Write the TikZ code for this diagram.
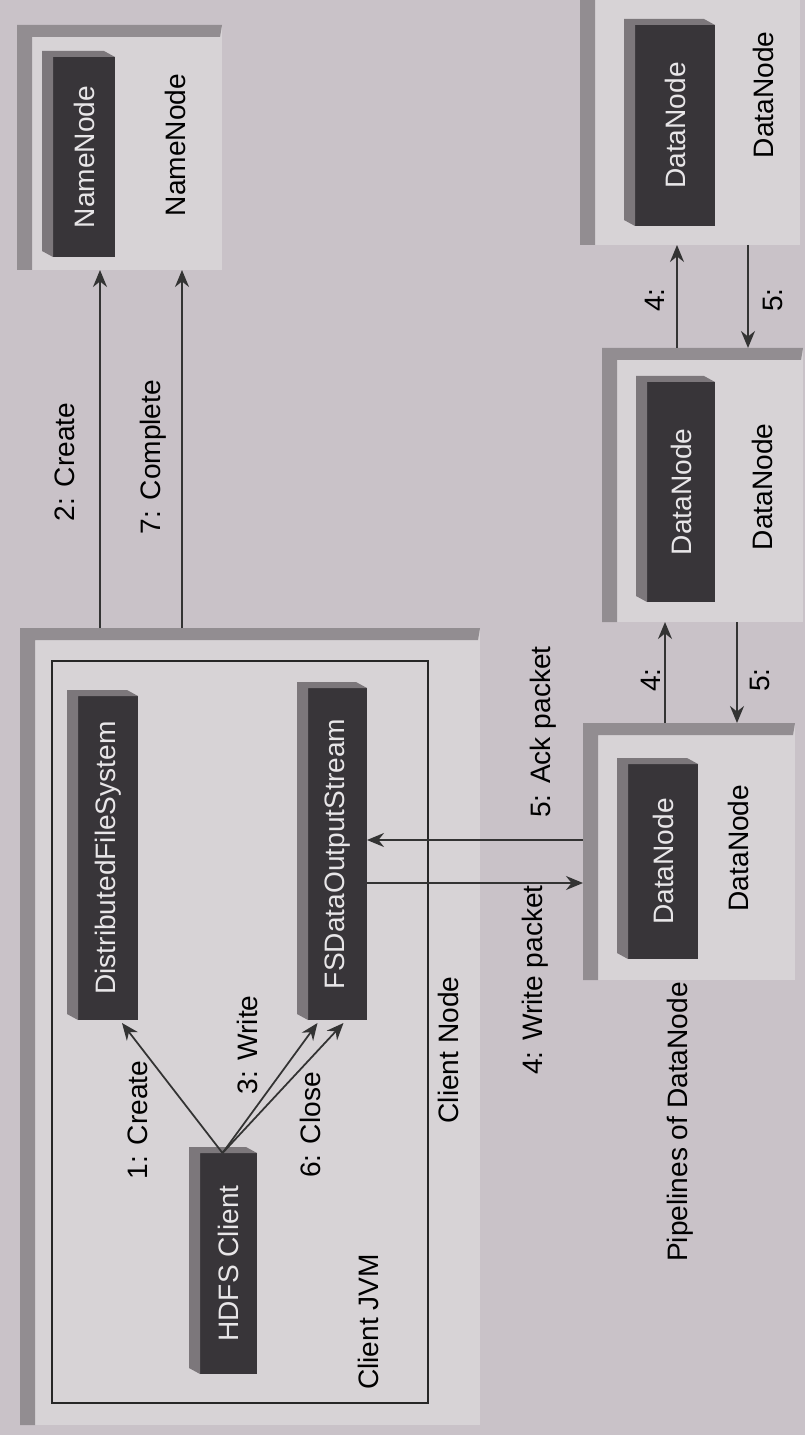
\documentclass[tikz,border=0pt]{standalone}
\usepackage{fontspec}
\setmainfont{Liberation Sans}
\usetikzlibrary{arrows.meta,fit}
\definecolor{paper}{RGB}{201,194,200}
\definecolor{slabface}{RGB}{215,211,214}
\definecolor{slabedge}{RGB}{146,141,145}
\definecolor{boxdark}{RGB}{56,53,57}
\definecolor{boxside}{RGB}{124,119,123}
\definecolor{boxtext}{RGB}{232,230,232}
\tikzset{
  slab/.style={inner sep=0pt, outer sep=0pt, fill=slabface},          % machine slab
  bevel/.style={fill=slabedge},
  blk/.style={inner sep=0pt, outer sep=0pt, fill=boxdark},             % dark component box
  sideface/.style={fill=boxside},
  lbl/.style={rotate=90, inner sep=1pt, font=\fontsize{16}{19}\selectfont},
  blktxt/.style={lbl, text=boxtext},
  jvm/.style={draw=black!85, line width=0.9pt, inner sep=0pt},
  arr/.style={draw=black!80, line width=1pt, -{Stealth[length=3.4mm,width=2.8mm]}},
}

\begin{document}
\begin{tikzpicture}[x=0.02cm, y=-0.02cm]
  \useasboundingbox (0,0) rectangle (805,1435);
  \fill[paper] (0,0) rectangle (805,1435);

  % slabs
  \node[slab, fit={(17,25) (222,270)}]     (namenode)   {};
  \node[slab, fit={(20,628) (480,1425)}]   (clientnode) {};
  \node[slab, fit={(583,723) (795,980)}]   (dn1)        {};
  \node[slab, fit={(602,348) (803,622)}]   (dn2)        {};
  \node[slab, fit={(580,-20) (800,245)}]   (dn3)        {};
  \foreach \s in {namenode,clientnode,dn1,dn2,dn3}
    \fill[bevel] (\s.south west) -- (\s.north west) -- (\s.north east)
      -- ([shift={(-2,12)}]\s.north east) -- ([shift={(15,12)}]\s.north west)
      -- ([shift={(15,0)}]\s.south west) -- cycle;

  \node[jvm, fit={(52,661) (428,1403)}] (jvmbox) {};

  % dark boxes
  \node[blk, fit={(53,57) (115,257)}]    (nnbox)  {};
  \node[blk, fit={(78,696) (138,1020)}]  (dfs)    {};
  \node[blk, fit={(308,688) (367,1020)}] (fsout)  {};
  \node[blk, fit={(200,1153) (257,1374)}] (hdfs)  {};
  \node[blk, fit={(628,764) (698,959)}]  (dnbox1) {};
  \node[blk, fit={(647,382) (715,602)}]  (dnbox2) {};
  \node[blk, fit={(635,25) (715,226)}]   (dnbox3) {};
  \foreach \b in {nnbox,dfs,fsout,hdfs,dnbox1,dnbox2,dnbox3}
    \fill[sideface] (\b.south west) -- ([shift={(-11,-6)}]\b.south west)
      -- ([shift={(-11,-6)}]\b.north west) -- ([shift={(-11,-6)}]\b.north east)
      -- (\b.north east) -- (\b.north west) -- cycle;

  \node[blktxt] (nnbox-t)  at (nnbox)  {NameNode};
  \node[blktxt] (dfs-t)    at (dfs)    {DistributedFileSystem};
  \node[blktxt] (fsout-t)  at (fsout)  {FSDataOutputStream};
  \node[blktxt] (hdfs-t)   at (hdfs)   {HDFS Client};
  \node[blktxt] (dnbox1-t) at (dnbox1) {DataNode};
  \node[blktxt] (dnbox2-t) at (dnbox2) {DataNode};
  \node[blktxt] (dnbox3-t) at (dnbox3) {DataNode};

  % captions
  \node[lbl] (nnlbl)   at (175,145)  {NameNode};
  \node[lbl] (cnlbl)   at (448,1050) {Client Node};
  \node[lbl] (jvmlbl)  at (368,1322) {Client JVM};
  \node[lbl] (dn1lbl)  at (738,848)  {DataNode};
  \node[lbl] (dn2lbl)  at (762,487)  {DataNode};
  \node[lbl] (dn3lbl)  at (763,95)   {DataNode};
  \node[lbl] (pipelbl) at (680,1122) {Pipelines of DataNode};

  % step labels
  \node[lbl] (s1) at (138,1120) {1: Create};
  \node[lbl] (s3) at (247,1045) {3: Write};
  \node[lbl] (s6) at (310,1125) {6: Close};
  \node[lbl] (s2) at (65,462)   {2: Create};
  \node[lbl] (s7) at (153,457)  {7: Complete};
  \node[lbl] (s4) at (535,980)  {4: Write packet};
  \node[lbl] (s5) at (543,732)  {5: Ack packet};
  \node[lbl] (s4a) at (651,680) {4:};
  \node[lbl] (s5a) at (760,680) {5:};
  \node[lbl] (s4b) at (655,300) {4:};
  \node[lbl] (s5b) at (773,300) {5:};

  % connectors
  \coordinate (laneA) at (100,0);
  \coordinate (laneB) at (182,0);
  \coordinate (wlane) at (0,883);
  \coordinate (alane) at (0,840);
  \coordinate (l1) at (665,0);
  \coordinate (l2) at (737,0);
  \coordinate (l3) at (677,0);
  \coordinate (l4) at (748,0);

  \draw[arr] ([shift={(-6,0)}]hdfs.north) -- ([shift={(14,3)}]dfs.south);
  \draw[arr] ([shift={(-6,0)}]hdfs.north) -- ([shift={(-20,3)}]fsout.south);
  \draw[arr] ([shift={(-6,0)}]hdfs.north) -- ([shift={(6,3)}]fsout.south);
  \draw[arr] (clientnode.north -| laneA) -- (namenode.south -| laneA);
  \draw[arr] (clientnode.north -| laneB) -- (namenode.south -| laneB);
  \draw[arr] (fsout.east |- wlane) -- (dn1.west |- wlane);
  \draw[arr] (dn1.west |- alane) -- (fsout.east |- alane);
  \draw[arr] (dn1.north -| l1) -- (dn2.south -| l1);
  \draw[arr] (dn2.south -| l2) -- (dn1.north -| l2);
  \draw[arr] (dn2.north -| l3) -- (dn3.south -| l3);
  \draw[arr] (dn3.south -| l4) -- (dn2.north -| l4);
\end{tikzpicture}
\end{document}
